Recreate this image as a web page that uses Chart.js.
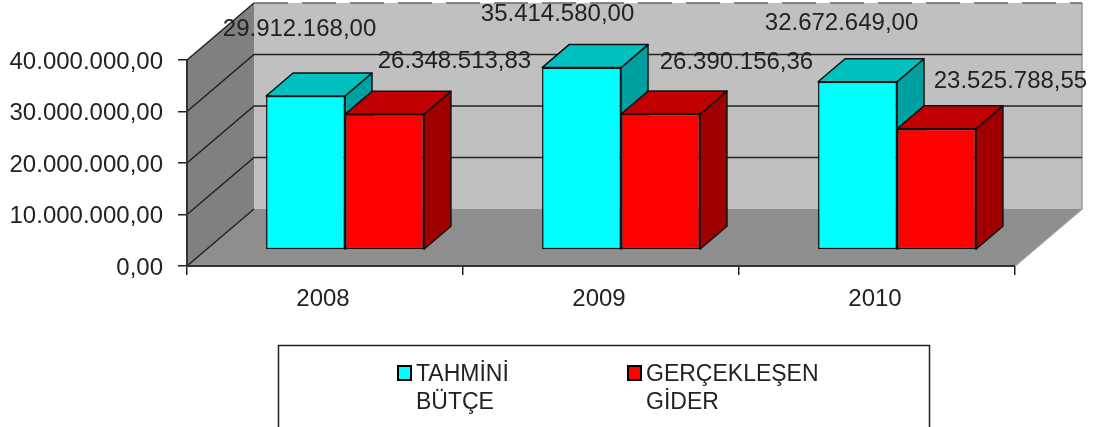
<!DOCTYPE html>
<html lang="tr">
<head>
<meta charset="utf-8">
<title>Tahmini bütçe ve gerçekleşen gider</title>
<script src="https://cdn.jsdelivr.net/npm/chart.js@4"></script>
<style>
  html, body { margin: 0; padding: 0; background: #fff; overflow: hidden; }
  canvas { display: block; }
</style>
</head>
<body>
<canvas id="budgetChart" width="1100" height="427"></canvas>
<script>
const years = ["2008", "2009", "2010"];
const tahminiButce = [29912168.00, 35414580.00, 32672649.00];
const gerceklesenGider = [26348513.83, 26390156.36, 23525788.55];
const seriesNames = ["TAHMİNİ BÜTÇE", "GERÇEKLEŞEN GİDER"];
const yTicks = [0, 10000000, 20000000, 30000000, 40000000];

const FONT = '24px "Liberation Sans", Arial, sans-serif';
const TEXT = "#222";

// perspective offsets, px
const room = { dx: 67, dy: -57 };
const barFront = { dx: 20, dy: -16 };
const barDepth = { dx: 27, dy: -23 };

// the labels were dragged by hand in the original, so each one has its own shift from its bar top
const labelShift = [
  [[14, -66], [-4, -52], [4, -57]],
  [[90, -52], [96, -51], [94, -46]]
];

const topFaces = ["#00c0c0", "#c00000"];
const sideFaces = ["#00a0a0", "#a00000"];

const fmt = v => v.toLocaleString("tr-TR", { minimumFractionDigits: 2, maximumFractionDigits: 2 });

function poly(ctx, pts, fill, stroke) {
  ctx.beginPath();
  pts.forEach((p, i) => i ? ctx.lineTo(p[0], p[1]) : ctx.moveTo(p[0], p[1]));
  ctx.closePath();
  if (fill) { ctx.fillStyle = fill; ctx.fill(); }
  if (stroke) { ctx.strokeStyle = stroke; ctx.lineWidth = 1.5; ctx.stroke(); }
}

// walls, floor and gridlines of the 3D box
const roomPlugin = {
  id: "room3d",
  beforeDatasetsDraw(chart) {
    const { ctx, chartArea: a, scales } = chart;
    const { dx, dy } = room;
    ctx.save();
    poly(ctx, [[a.left + dx, a.top + dy], [a.right + dx, a.top + dy], [a.right + dx, a.bottom + dy], [a.left + dx, a.bottom + dy]], "#c0c0c0");
    poly(ctx, [[a.left, a.top], [a.left + dx, a.top + dy], [a.left + dx, a.bottom + dy], [a.left, a.bottom]], "#808080");
    poly(ctx, [[a.left, a.bottom], [a.right, a.bottom], [a.right + dx, a.bottom + dy], [a.left + dx, a.bottom + dy]], "#8e8e8e");

    ctx.strokeStyle = "#999";
    ctx.lineWidth = 1.5;
    ctx.beginPath();
    ctx.moveTo(a.right + dx, a.top + dy);
    ctx.lineTo(a.right + dx, a.bottom + dy);
    ctx.lineTo(a.right, a.bottom);
    ctx.stroke();

    yTicks.forEach(v => {
      const y = scales.y.getPixelForValue(v);
      ctx.strokeStyle = "#222";
      ctx.lineWidth = 1.5;
      ctx.setLineDash([]);
      ctx.beginPath();
      ctx.moveTo(a.left, y);
      ctx.lineTo(a.left + dx, y + dy);
      if (v > 0 && v < 40000000) ctx.lineTo(a.right + dx, y + dy);
      ctx.stroke();
      if (v === 40000000) {
        // top edge is broken up in the original
        ctx.strokeStyle = "#666";
        ctx.setLineDash([34, 14]);
        ctx.beginPath();
        ctx.moveTo(a.left + dx, y + dy);
        ctx.lineTo(a.right + dx, y + dy);
        ctx.stroke();
        ctx.setLineDash([]);
      }
    });

    ctx.strokeStyle = "#333";
    ctx.lineWidth = 2;
    ctx.beginPath();
    ctx.moveTo(a.left, a.top);
    ctx.lineTo(a.left, a.bottom);
    ctx.lineTo(a.right, a.bottom);
    ctx.stroke();
    ctx.restore();

    // side and top faces, then the library draws the front faces in the shifted plane
    ctx.save();
    ctx.translate(barFront.dx, barFront.dy);
    ctx.lineJoin = "round";
    chart.data.datasets.forEach((ds, i) => {
      chart.getDatasetMeta(i).data.forEach(bar => {
        const l = bar.x - bar.width / 2, r = bar.x + bar.width / 2;
        const t = bar.y, b = bar.base;
        const ox = barDepth.dx, oy = barDepth.dy;
        poly(ctx, [[r, t], [r + ox, t + oy], [r + ox, b + oy], [r, b]], sideFaces[i], "#111");
        poly(ctx, [[l, t], [l + ox, t + oy], [r + ox, t + oy], [r, t]], topFaces[i], "#111");
      });
    });
    ctx.restore();

    ctx.save();
    ctx.translate(barFront.dx, barFront.dy);
  },
  afterDatasetsDraw(chart) {
    const { ctx } = chart;
    ctx.restore();

    // value labels
    ctx.save();
    ctx.font = FONT;
    ctx.fillStyle = TEXT;
    ctx.textAlign = "center";
    ctx.textBaseline = "middle";
    chart.data.datasets.forEach((ds, i) => {
      chart.getDatasetMeta(i).data.forEach((bar, j) => {
        const s = labelShift[i][j];
        ctx.fillText(fmt(ds.data[j]), bar.x + s[0], bar.y - 17 + s[1]);
      });
    });
    ctx.restore();

    drawLegend(chart);
  }
};

// legend box runs off the bottom of the picture, as in the original
function drawLegend(chart) {
  const { ctx } = chart;
  ctx.save();
  ctx.strokeStyle = "#222";
  ctx.lineWidth = 1.5;
  ctx.strokeRect(278.5, 345.5, 651, 100);
  ctx.font = '23px "Liberation Sans", Arial, sans-serif';
  ctx.textAlign = "left";
  ctx.textBaseline = "alphabetic";
  const swatchX = [398, 628];
  chart.data.datasets.forEach((ds, i) => {
    ctx.fillStyle = ds.backgroundColor;
    ctx.strokeStyle = "#000";
    ctx.lineWidth = 2;
    ctx.fillRect(swatchX[i], 366, 13, 14);
    ctx.strokeRect(swatchX[i], 366, 13, 14);
    ctx.fillStyle = TEXT;
    seriesNames[i].split(" ").forEach((word, k) => {
      ctx.fillText(word, swatchX[i] + 18, 381 + k * 28);
    });
  });
  ctx.restore();
}

new Chart(document.getElementById("budgetChart"), {
  type: "bar",
  data: {
    labels: years,
    datasets: [
      { label: seriesNames[0], data: tahminiButce, backgroundColor: "#00ffff" },
      { label: seriesNames[1], data: gerceklesenGider, backgroundColor: "#ff0000" }
    ].map(ds => Object.assign(ds, {
      borderColor: "#111",
      borderWidth: 1.5,
      borderSkipped: false,
      barPercentage: 1,
      categoryPercentage: 0.572,
      clip: false
    }))
  },
  options: {
    responsive: false,
    animation: false,
    layout: { padding: { top: 60, right: 85 } },
    plugins: { legend: { display: false }, tooltip: { enabled: false } },
    scales: {
      x: {
        afterFit(scale) { scale.height = 161; },
        border: { display: false },
        grid: { drawOnChartArea: false, tickLength: 9, color: "#222", lineWidth: 1.5 },
        ticks: { font: { family: '"Liberation Sans", Arial, sans-serif', size: 24 }, color: TEXT, padding: 10, labelOffset: -2, maxRotation: 0 }
      },
      y: {
        min: 0,
        max: 40000000,
        afterFit(scale) { scale.width = 187; },
        border: { display: false },
        grid: { drawOnChartArea: false, tickLength: 9, color: "#222", lineWidth: 1.5 },
        ticks: {
          stepSize: 10000000,
          font: { family: '"Liberation Sans", Arial, sans-serif', size: 24 },
          color: TEXT,
          padding: 15,
          labelOffset: 2,
          callback: v => fmt(v)
        }
      }
    }
  },
  plugins: [roomPlugin]
});
</script>
</body>
</html>
